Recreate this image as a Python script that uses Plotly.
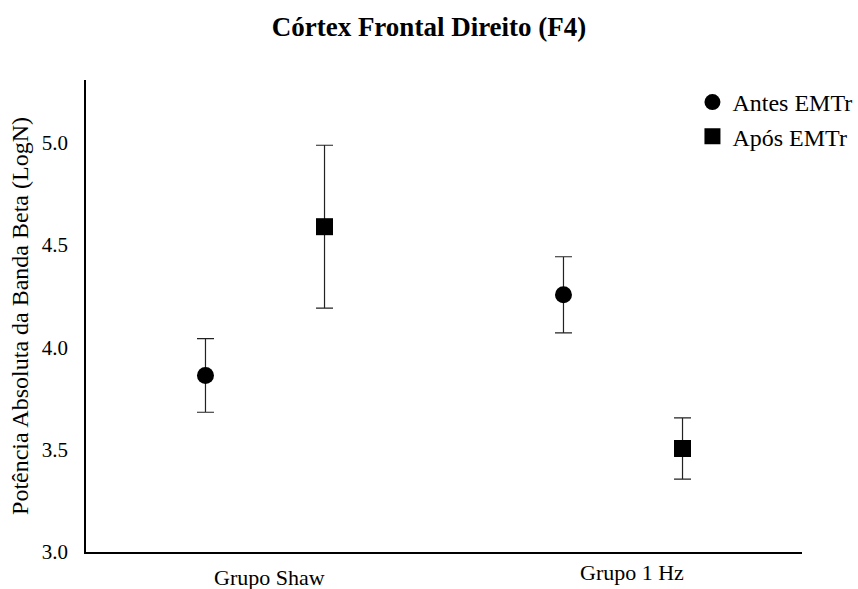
import plotly.graph_objects as go

categories = ["Grupo Shaw", "Grupo 1 Hz"]
antes_values = [3.863, 4.257]
antes_errors = [0.180, 0.186]
apos_values = [4.590, 3.506]
apos_errors = [0.398, 0.150]
series_names = ["Antes EMTr", "Após EMTr"]
y_ticks = [3.0, 3.5, 4.0, 4.5, 5.0]
y_tick_labels = ["3.0", "3.5", "4.0", "4.5", "5.0"]

FONT = "Liberation Serif"

fig = go.Figure()
for name, vals, errs, sym, grp in [
    (series_names[0], antes_values, antes_errors, "circle", "a"),
    (series_names[1], apos_values, apos_errors, "square", "b"),
]:
    fig.add_trace(go.Scatter(
        x=categories, y=vals, name=name, mode="markers",
        offsetgroup=grp,
        marker=dict(symbol=sym, size=17, color="black"),
        error_y=dict(type="data", array=errs, visible=True,
                     color="#222222", thickness=1.2, width=8.5),
    ))

label_shift = [(4, -25), (9, -20)]
for cat, (dx, dy) in zip(categories, label_shift):
    fig.add_annotation(x=cat, xref="x", y=0, yref="paper", text=cat,
                       showarrow=False, xshift=dx, yshift=dy,
                       yanchor="middle", font=dict(size=22, color="black", family=FONT))

fig.update_layout(
    width=858, height=589,
    margin=dict(l=86, r=56, t=80, b=37, autoexpand=False),
    paper_bgcolor="white", plot_bgcolor="white",
    scattermode="group", scattergap=0.335,
    font=dict(family=FONT, color="black", size=20),
    title=dict(text="<b>Córtex Frontal Direito (F4)</b>", x=0.5, xanchor="center",
               y=1 - 27 / 589, yanchor="middle", yref="container",
               font=dict(size=27, family=FONT, color="black")),
    showlegend=True,
    legend=dict(x=0.847, y=1.0, xanchor="left", yanchor="top",
                font=dict(size=24, family=FONT, color="black"),
                bgcolor="rgba(0,0,0,0)", itemsizing="trace",
                tracegroupgap=0),
    xaxis=dict(showline=True, linecolor="black", linewidth=1.5,
               showgrid=False, zeroline=False, ticks="", showticklabels=False,
               range=[-0.5, 1.5]),
    yaxis=dict(showline=True, linecolor="black", linewidth=1.5,
               showgrid=False, zeroline=False, ticks="",
               range=[3.0, 5.307], tickvals=y_ticks, ticktext=y_tick_labels,
               ticklabelstandoff=12,
               tickfont=dict(size=21, family=FONT, color="black"),
               title=dict(text="Potência Absoluta da Banda Beta (LogN)",
                          font=dict(size=24, family=FONT, color="black"),
                          standoff=6)),
)

fig.write_html("out.html")
